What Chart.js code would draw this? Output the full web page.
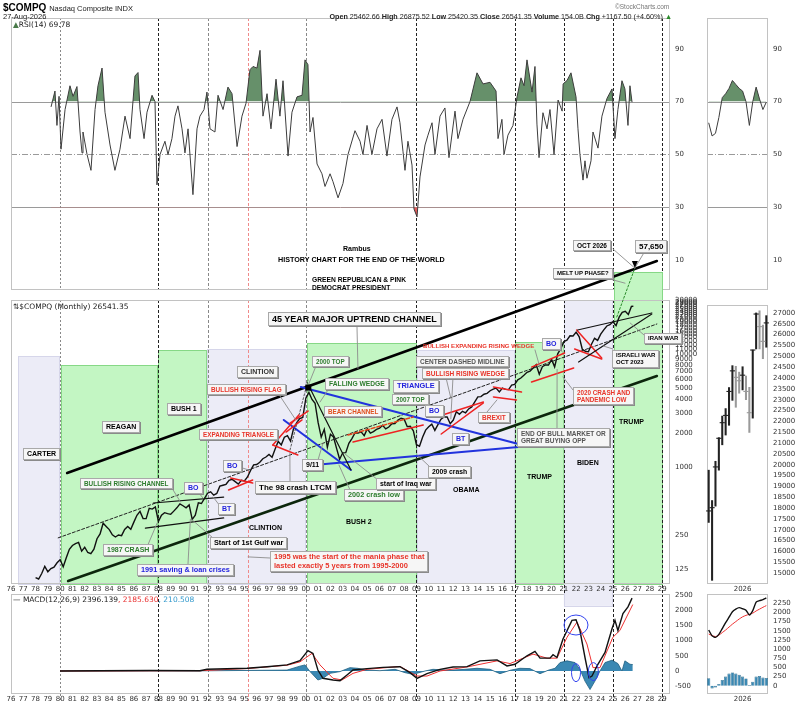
<!DOCTYPE html>
<html><head><meta charset="utf-8">
<script src="https://cdn.jsdelivr.net/npm/chart.js@4.4.1/dist/chart.umd.min.js"></script>
<style>
html,body{margin:0;padding:0;background:#fff}
body{width:800px;height:704px;overflow:hidden;position:relative;font-family:"Liberation Sans",Arial,sans-serif}
canvas{position:absolute}
.t{position:absolute;white-space:nowrap;line-height:1;z-index:4}
.cb{position:absolute;white-space:nowrap;background:#f6f6f6;border:1px solid #a9a9a9;box-shadow:1px 1px 0 #8a8a8a;padding:1px 3px;font-weight:bold;line-height:1.15;z-index:4}
.nb{position:absolute;white-space:nowrap;font-weight:bold;line-height:1.15;z-index:4}
.lg{position:absolute;white-space:nowrap;font:7.5px "DejaVu Sans",sans-serif;color:#222;z-index:4}
</style></head><body>
<div class="t" style="left:3px;top:2px;font:bold 10px 'Liberation Sans',Arial">$COMPQ <span style="font:normal 7.5px 'Liberation Sans',Arial;color:#222">Nasdaq Composite INDX</span></div>
<div class="t" style="left:3px;top:12px;font:7.5px 'Liberation Sans',Arial;color:#222">27-Aug-2026</div>
<div class="t" style="left:615px;top:3px;font:6.5px 'Liberation Sans',Arial;color:#777">©StockCharts.com</div>
<div class="t" style="right:128px;top:12px;font:7.2px 'Liberation Sans',Arial;color:#222"><b>Open</b> 25462.66 <b>High</b> 26875.52 <b>Low</b> 25420.35 <b>Close</b> 26541.35 <b>Volume</b> 154.0B <b>Chg</b> +1167.50 (+4.60%) <span style="color:#2a8a2a">▲</span></div>
<div class="lg" style="left:13px;top:20px"><span style="color:#4a7a4a">▲</span>RSI(14) 69.78</div>
<div class="lg" style="left:13px;top:302px">⇅$COMPQ (Monthly) 26541.35</div>
<div class="lg" style="left:13px;top:595px">— MACD(12,26,9) 2396.139<span style="color:#e83030">, 2185.630</span><span style="color:#3399cc">, 210.508</span></div>
<div class="nb" style="left:343px;top:245px;font-size:7px">Rambus</div>
<div class="nb" style="left:278px;top:256px;font-size:7.2px">HISTORY CHART FOR THE END OF THE WORLD</div>
<div class="nb" style="left:312px;top:276px;font-size:6.7px">GREEN REPUBLICAN &amp; PINK<br>DEMOCRAT PRESIDENT</div>
<script>
// ---------------- DATA ----------------
const priceStartYear = 1978;
const priceQuarterly = [105,
 102,114,132,118, 126,130,142,151, 131,157,187,202, 210,215,180,195, 175,171,187,232,
 256,318,298,279, 251,240,250,247, 280,297,281,325, 374,405,350,349, 431,424,444,330,
 374,394,387,381, 407,435,472,454, 435,462,344,374, 482,475,527,586, 603,563,583,677,
 690,703,763,777, 743,706,764,752, 817,933,1044,1052, 1101,1185,1226,1291, 1221,1442,1685,1570,
 1835,1895,1694,2193, 2461,2686,2746,4069, 4573,3966,3673,2471, 1840,2160,1499,1950, 1845,1463,1172,1336,
 1341,1623,1787,2003, 1994,2048,1897,2175, 1999,2057,2152,2205, 2340,2172,2258,2415, 2422,2603,2701,2652,
 2279,2293,2092,1577, 1529,1835,2122,2269, 2398,2109,2369,2653, 2781,2774,2415,2605, 3092,2935,3116,3020,
 3268,3403,3771,4177, 4199,4408,4493,4736, 4901,4987,4620,5007, 4870,4843,5312,5383, 5912,6140,6496,6903,
 7063,7510,8046,6635, 7729,8006,7999,8973, 7700,10059,11168,12888, 13247,14504,14448,15645, 14221,11029,10576,10466,
 12222,13788,13219,15011, 16379,17733,18189,19311, 17870,21220,23380,23875, 22400,26370];
const priceLastYear = 2026.66, priceLastClose = 26541.35;
const priceTicks = [125,250,1000,2000,3000,4000,5000,6000,7000,8000,9000,10000,11000,12000,13000,14000,15000,16000,17000,18000,19000,20000,21000,22000,23000,24000,25000,26000,27000,28000,29000,30000];

const rsiYears = [1979.26,1979.58,1979.74,1979.91,1980.07,1980.40,1980.80,1981.05,1981.37,1981.62,
 1981.78,1981.86,1982.19,1982.51,1982.84,1983.08,1983.41,1983.65,1984.06,1984.46,
 1984.87,1985.28,1985.69,1986.09,1986.34,1986.50,1986.83,1987.07,1987.48,1987.72,
 1987.88,1988.13,1988.53,1988.78,1989.10,1989.35,1989.59,1989.92,1990.16,1990.41,
 1990.81,1991.14,1991.38,1991.71,1991.95,1992.20,1992.60,1992.85,1993.26,1993.66,
 1993.99,1994.40,1994.80,1995.13,1995.45,1995.70,1996.02,1996.27,1996.51,1996.84,
 1997.16,1997.57,1997.89,1998.14,1998.55,1998.87,1999.28,1999.69,1999.93,2000.17,
 2000.34,2000.58,2000.91,2001.31,2001.56,2001.97,2002.21,2002.62,2003.02,2003.43,
 2004.00,2004.41,2004.65,2004.98,2005.38,2005.79,2006.20,2006.60,2007.01,2007.42,
 2007.66,2007.91,2008.07,2008.31,2008.64,2008.80,2009.05,2009.29,2009.70,2009.94,
 2010.27,2010.51,2010.92,2011.32,2011.65,2012.14,2012.38,2012.79,2013.36,2013.93,
 2014.42,2014.99,2015.48,2015.64,2015.96,2016.13,2016.45,2016.86,2017.19,2017.51,
 2017.76,2018.00,2018.41,2018.65,2018.81,2018.98,2019.30,2019.63,2019.87,2020.20,
 2020.53,2020.86,2020.94,2021.26,2021.58,2021.99,2022.15,2022.31,2022.56,2022.72,
 2022.88,2023.21,2023.37,2023.78,2024.10,2024.51,2024.92,2025.16,2025.40,2025.73,
 2025.97,2026.22,2026.38,2026.55];
const rsiValues = [68,74,61,72,52,67,76,72,75.7,58.5,
 50.6,58.5,50,44,67,76,82.7,66,53.6,44,
 52,64.5,56,79.7,81,67,56,66,72.4,70,
 38.5,50,55,50,56,64.5,68.4,59.7,50.6,59.7,
 34.8,59.7,64.5,67,73.6,59.7,58.5,72.4,67,75.5,
 73,53,64.5,69.4,82.1,83.3,82.7,89.4,64.5,73,
 59.7,78.5,64.5,77.9,49.4,66,71.8,72.4,85.8,84,
 58.5,64,46.4,42.7,37.9,42.7,39.7,33.6,39,50,
 59,55,50,61,50,59.7,63.3,49.4,63.3,68,
 62,51,44,55,46,29.4,26.4,41.5,53.6,57.3,
 62,50,64.5,67.6,48.8,66.4,56,63.3,70,80.9,
 76.7,77.3,74,56,63.3,50,57.3,61,71.8,79,
 76,85.8,73.6,83.3,61.5,48.8,65.8,59.7,67,50,
 70.6,66.4,76.7,78,80.9,71.8,59.7,50,40.3,47.6,
 41,47.6,58.5,52.4,64.5,71.2,74.8,56,67,77.9,
 74.8,61,76,69.8];

const macdYears = [1979.99,1983.24,1987.31,1991.38,1991.95,1995.21,1996.84,1998.47,1999.52,2000.17,
 2000.58,2000.98,2001.39,2002.21,2002.78,2003.35,2003.84,2004.98,2006.28,2007.66,
 2008.48,2009.05,2009.86,2010.92,2011.98,2013.12,2014.17,2015.56,2016.37,2017.02,
 2018.00,2018.65,2019.06,2019.87,2020.12,2020.44,2020.93,2021.66,2021.99,2022.31,
 2022.72,2023.05,2023.29,2023.70,2024.35,2024.92,2025.16,2025.40,2025.81,2026.22,2026.55];
const macdValues = [0,10,15,10,55,88,140,200,340,670,
 580,33,-240,-296,-318,-130,33,77,120,140,
 -55,-244,-89,55,133,144,333,366,166,222,
 500,644,422,422,533,444,1055,1665,1687,1332,
 444,-222,-166,166,610,1387,1665,1332,1887,2109,2396];
const signalYears = [1979.99,1991.38,1995.21,1998.47,1999.52,2000.50,2001.15,2002.21,2002.94,2003.84,
 2004.98,2007.66,2009.05,2009.86,2010.92,2013.12,2015.56,2016.62,2018.49,2019.63,
 2020.44,2021.26,2022.07,2022.88,2023.37,2023.94,2024.99,2025.56,2026.61];
const signalValues = [0,10,80,190,300,580,200,-240,-296,-77,
 55,150,-166,-166,0,133,333,244,555,422,
 422,1110,1610,888,111,111,1110,1332,2186];
const histYears = [1979.99,1991.38,1998.47,1999.52,1999.93,2000.34,2000.98,2001.39,2001.97,2002.78,
 2003.59,2004.24,2004.81,2006.03,2007.26,2008.07,2008.72,2009.70,2010.35,2011.73,
 2012.95,2013.93,2014.99,2015.80,2016.62,2017.43,2018.24,2019.06,2019.71,2020.28,
 2020.69,2021.26,2021.91,2022.31,2022.72,2023.13,2023.53,2023.94,2024.35,2024.92,
 2025.40,2025.73,2025.97,2026.38,2026.61];
const histValues = [0,5,30,160,200,-20,-296,-240,-77,-20,
 110,88,33,10,55,-55,-111,0,55,22,
 55,89,55,-89,22,89,78,-89,22,89,
 277,333,277,55,-333,-610,-333,0,277,355,
 244,0,333,222,210];
const macdTicks = [-500,0,500,1000,1500,2000,2500];
const rsiTicks = [10,30,50,70,90];

// mini panel (last 18 monthly bars)
const miniMonths = ['Mar 25','Apr 25','May 25','Jun 25','Jul 25','Aug 25','Sep 25','Oct 25','Nov 25','Dec 25','Jan 26','Feb 26','Mar 26','Apr 26','May 26','Jun 26','Jul 26','Aug 26'];
const miniHigh  = [19750,18350,20160,21250,22245,22590,23560,24570,24540,24270,24520,24090,23570,25290,27000,27100,26440,26875];
const miniLow   = [17340,14670,18090,19750,20920,21370,21820,22970,22650,23300,23450,23000,21490,22150,25340,25340,24890,25420];
const miniClose = [17870,18020,19900,21220,21940,22275,23380,24330,24030,23875,24130,23380,22400,25290,26950,26370,25690,26541];
const miniRsi   = [62,57,58,64,71.5,73,75,78,76.5,75,74,70,61,70,75.5,71,67,69.8];
const miniMacd  = [1520,1360,1320,1400,1560,1720,1870,2020,2090,2130,2100,2060,1930,2050,2280,2320,2350,2396];
const miniSignal= [1410,1370,1340,1380,1450,1520,1600,1680,1750,1820,1880,1920,1950,1980,2040,2090,2140,2186];
const miniHist  = [205,-75,-46,46,157,250,330,360,330,296,250,200,18,111,250,268,222,210];

// presidential terms (start, end, top price, bottom price, party)
const termStart = [1976.6,1980.05,1988.0,1991.95,2000.1,2009.05,2017.05,2021.0,2025.1];
const termEnd   = [1979.95,1987.9,1991.9,1999.95,2009.0,2016.98,2020.95,2024.92,2029.0];
const termTop   = [9620,8000,10850,11090,12500,10850,12780,30100,53300];
const termBottom= [93,93,93,93,93,93,93,59,93];
const termParty = ['D','R','R','D','R','D','R','D','R'];

const vLineYears = [1980,1988,1992,1995.3,2000,2009,2017,2021,2025,2029];

// ---------------- STYLES / LAYOUT ----------------
const YR0 = 1976, YR1 = 2029.64, AXW = 30;
const tickFont = {family:'DejaVu Sans', size:7};
const tickColor = '#333';
const vLineStyle = [['#888',[2,2]],['#222',[3,2]],['#888',[3,2]],['#f08a8a',[3,2]],['#888',[3,2]],['#222',[3,2]],['#222',[3,2]],['#222',[3,2]],['#222',[3,2]],['#222',[3,2]]];
const lineStyles = {
 chan:{c:'#000',w:2.6}, chanL:{c:'#0c260c',w:2.6}, mid:{c:'#222',w:1,d:[3,2]}, dash:{c:'#333',w:0.8,d:[2,2]},
 blue:{c:'#2233dd',w:2}, red:{c:'#ee2222',w:1.5}, redd:{c:'#e8401a',w:1.5,d:[4,2]}, blk:{c:'#111',w:1.2}, gdot:{c:'#2a8a2a',w:1,d:[2,2]}
};
const trendLines = [
 [1980.57,885,2028.57,66700,'chan'],
 [1980.65,98,2028.57,6390,'chanL'],
 [1979.84,236,2028.57,18450,'mid'],
 [1999.59,5110,2017.31,1600,'blue'],
 [2000.65,1041,2017.31,1503,'blue'],
 [1998.20,2610,2003.67,941,'blue'],
 [2000.41,4800,2003.67,941,'blk'],
 [1998.71,1414,2000.18,5890,'dash'],
 [1997.31,1567,1999.43,2890,'red'],
 [1997.31,1567,1999.35,1277,'red'],
 [1998.71,2450,2000.18,3130,'red'],
 [1998.39,2040,1999.69,2610,'red'],
 [1993.88,799,1995.67,722,'red'],
 [1993.71,626,1995.67,767,'red'],
 [1987.59,480,1993.31,542,'blk'],
 [1986.94,288,1993.31,354,'blk'],
 [2003.43,1920,2008.73,2770,'redd'],
 [2003.84,1665,2009.55,2350,'red'],
 [2010.61,2770,2014.45,3760,'red'],
 [2011.02,1960,2014.45,3690,'red'],
 [2015.27,5110,2017.55,4610,'red'],
 [2015.27,4170,2017.14,3920,'red'],
 [2018.37,7670,2021.06,10220,'red'],
 [2018.37,5660,2021.80,7520,'red'],
 [2022.04,16330,2024.08,9230,'red'],
 [2021.88,11090,2024.08,9040,'red'],
 [2022.12,16330,2028.16,23100,'blk'],
 [2022.20,8500,2028.16,22600,'blk'],
 [2025.31,21300,2026.78,57650,'gdot']
];
const targetYear = 2026.78, targetValue = 57650;
// leader lines: page pixel start -> data target
const leaders = [
 [357,327,2004.24,7460],[278,393,1999.18,2610],[290,481,1998.7,1330],[318,460,2001.4,1630],
 [316,366,2000.1,5000],[330,387,2001.15,3760],[233,465,1995.35,941],[170,485,1989.8,490],
 [195,488,1991.63,530],[220,506,1992.46,542],[147,547,1987.9,320],[213,538,1990.75,340],
 [188,564,1990.6,345],[270,558,1995.3,160],[350,490,2002.7,1040],[378,480,2003.2,1300],
 [430,467,2009.1,1270],[443,365,2011.8,4080],[453,377,2011.8,2670],[535,350,2019.07,7520],
 [553,343,2020.9,10400],[487,412,2015.55,3920],[557,428,2020.45,7300],[573,390,2020.93,6270],
 [613,349,2024.2,11800],[644,335,2026.4,18830],[613,249,targetYear,targetValue],[645,251,targetYear,targetValue],
 [606,278,2025.98,42400]
];
const notes = [
 [23,448,'CARTER','#000',1,7],[102,421,'REAGAN','#000',1,7],[167,403,'BUSH 1','#000',1,7],
 [237,366,'CLINTION','#333',1,7],[207,384,'BULLISH RISING FLAG','#e8352a',1,6.4],
 [199,429,'EXPANDING TRIANGLE','#e8352a',1,6.3],[223,460,'BO','#2222dd',1,7],
 [80,478,'BULLISH RISING CHANNEL','#2d7d2d',1,6.4],[184,482,'BO','#2222dd',1,7],[218,503,'BT','#2222dd',1,7],
 [255,481,'The 98 crash LTCM','#000',1,8],[302,459,'9/11','#000',1,7],[103,544,'1987 CRASH','#2d7d2d',1,7],
 [210,537,'Start of 1st Gulf war','#000',1,7.3],[249,524,'CLINTION','#000',0,7],
 [137,564,'1991 saving &amp; loan crises','#2222dd',1,7.3],
 [270,551,'1995 was the start of the mania phase that<br>lasted exactly 5 years from 1995-2000','#e8352a',1,7.5],
 [268,312,'45 YEAR MAJOR UPTREND CHANNEL','#000',1,9],
 [312,356,'2000 TOP','#2d7d2d',1,6.3],[325,378,'FALLING WEDGE','#2d7d2d',1,6.7],[393,380,'TRIANGLE','#2222dd',1,7.4],
 [324,406,'BEAR CHANNEL','#e0501e',1,6.3],[392,394,'2007 TOP','#2d7d2d',1,6.3],[425,405,'BO','#2222dd',1,7],
 [452,433,'BT','#2222dd',1,7],[344,489,'2002 crash low','#2d7d2d',1,7.3],[376,478,'start of Iraq war','#000',1,6.9],
 [428,466,'2009 crash','#000',1,6.8],[453,486,'OBAMA','#000',0,7],[346,518,'BUSH 2','#000',0,7],
 [416,356,'CENTER DASHED MIDLINE','#555',1,6.5],[422,368,'BULLISH RISING WEDGE','#e8352a',1,6.5],
 [423,342,'BULLISH EXPANDING RISING WEDGE','#e8352a',0,6.1],[542,338,'BO','#2222dd',1,7],
 [478,412,'BREXIT','#e8352a',1,6.5],[517,428,'END OF BULL MARKET OR<br>GREAT BUYING OPP','#555',1,6.5],
 [527,473,'TRUMP','#000',0,7],[577,459,'BIDEN','#000',0,7],
 [573,387,'2020 CRASH AND<br>PANDEMIC LOW','#e8352a',1,6.3],[612,350,'ISRAELI WAR<br>OCT 2023','#000',1,6],
 [619,418,'TRUMP','#000',0,7],[644,333,'IRAN WAR','#000',1,6],[573,240,'OCT 2026','#000',1,6.5],
 [635,240,'57,650','#000',1,8],[553,268,'MELT UP PHASE?','#000',1,6]
];
const ellipses = [[2021.99,1513,12,10],[2021.99,-55,4.5,9],[2023.4,-20,5,9]];

// ---------------- HELPERS ----------------
function mkCanvas(left,top,w,h,z){
 const c=document.createElement('canvas'); c.width=w; c.height=h;
 c.style.left=left+'px'; c.style.top=top+'px'; c.style.width=w+'px'; c.style.height=h+'px'; c.style.zIndex=z;
 document.body.appendChild(c); return c;
}
function yAxis(min,max,ticks,type){
 return {type:type||'linear', position:'right', min, max, grid:{display:false, drawTicks:false}, border:{display:false},
  ticks:{font:tickFont, color:tickColor, padding:5, autoSkip:false, callback:v=>String(v)},
  afterBuildTicks(s){ s.ticks = ticks.map(v=>({value:v})); },
  afterFit(s){ s.width=AXW; s.paddingTop=0; s.paddingBottom=0; }};
}
const yearTicks=[]; for(let y=1976;y<=2029;y++) yearTicks.push(y);
function xYears(show){
 return {type:'linear', min:YR0, max:YR1, display:show, position:'bottom', grid:{display:false, drawTicks:false}, border:{display:false},
  ticks:{font:tickFont, color:tickColor, padding:2, autoSkip:false, maxRotation:0, z:1, callback:v=>String(v%100).padStart(2,'0')},
  afterBuildTicks(s){ s.ticks = yearTicks.map(v=>({value:v})); },
  afterFit(s){ s.height=11; s.paddingLeft=0; s.paddingRight=0; }};
}
function panelPlugin(cfg){
 return {id:'panel', beforeDatasetsDraw(chart){
  const {ctx, chartArea:a, scales:{x,y}} = chart;
  ctx.save(); ctx.lineWidth=1;
  (cfg.hlines||[]).forEach(h=>{ const py=Math.round(y.getPixelForValue(h[0]))+0.5;
    ctx.strokeStyle='#9a9a9a'; ctx.setLineDash(h[1]); ctx.beginPath(); ctx.moveTo(a.left,py); ctx.lineTo(a.right,py); ctx.stroke(); });
  if(cfg.vlines){ vLineYears.forEach((yr,i)=>{ const px=Math.round(x.getPixelForValue(yr))+0.5;
    ctx.strokeStyle=vLineStyle[i][0]; ctx.setLineDash(vLineStyle[i][1]); ctx.beginPath();
    ctx.moveTo(px,a.top); ctx.lineTo(px,a.bottom+(cfg.vBot||0)); ctx.stroke(); }); }
  ctx.setLineDash([]); ctx.strokeStyle='#c2c2c2';
  ctx.strokeRect(Math.round(a.left)+0.5, Math.round(a.top)+0.5, Math.round(a.width)-1, Math.round(a.height));
  ctx.restore();
 }};
}
const baseOpts = (pad)=>({responsive:false, animation:false, events:[], layout:{padding:pad},
  plugins:{legend:{display:false}, tooltip:{enabled:false}}});

// ---------------- RSI (main) ----------------
const rsiPts = rsiYears.map((x,i)=>({x, y:rsiValues[i]}));
new Chart(mkCanvas(0,0,800,300,1), {type:'line',
 data:{datasets:[
  {data:rsiPts, borderColor:'#3c3c3c', borderWidth:1, pointRadius:0, tension:0, fill:{target:{value:70}, above:'#66906a', below:'rgba(0,0,0,0)'}},
  {data:rsiPts, borderWidth:0, borderColor:'rgba(0,0,0,0)', pointRadius:0, tension:0, fill:{target:{value:30}, above:'rgba(0,0,0,0)', below:'#e05a5a'}}
 ]},
 options:Object.assign(baseOpts({left:11,right:100,top:18,bottom:0}), {scales:{x:xYears(false), y:yAxis(-0.9,101.64,rsiTicks)}}),
 plugins:[panelPlugin({hlines:[[70,[]],[30,[]],[50,[6,2,1,2]]], vlines:true})]
});

// ---------------- PRICE (main) ----------------
const pricePts = priceQuarterly.map((v,i)=>({x:priceStartYear+i*0.25, y:v}));
pricePts.push({x:priceLastYear, y:priceLastClose});
const regionPlugin = {id:'regions', beforeDatasetsDraw(chart){
 const {ctx, scales:{x,y}} = chart; ctx.save();
 termStart.forEach((s,i)=>{
  const x0=x.getPixelForValue(s), x1=x.getPixelForValue(termEnd[i]);
  const yt=y.getPixelForValue(termTop[i]), yb=y.getPixelForValue(termBottom[i]);
  const rep = termParty[i]==='R';
  ctx.fillStyle = rep ? '#c3f6c3' : '#ececf7';
  ctx.fillRect(x0,yt,x1-x0,yb-yt);
  ctx.strokeStyle = rep ? '#86d886' : '#d6d6ea'; ctx.lineWidth=1;
  ctx.strokeRect(Math.round(x0)+0.5,Math.round(yt)+0.5,Math.round(x1-x0),Math.round(yb-yt));
 });
 ctx.restore();
}};
const overlayPlugin = {id:'overlay', afterDatasetsDraw(chart){
 const {ctx, scales:{x,y}} = chart;
 const P=(yr,v)=>[x.getPixelForValue(yr), y.getPixelForValue(v)];
 ctx.save(); ctx.lineCap='round';
 trendLines.forEach(t=>{ const st=lineStyles[t[4]]; const a=P(t[0],t[1]), b=P(t[2],t[3]);
  ctx.strokeStyle=st.c; ctx.lineWidth=st.w; ctx.setLineDash(st.d||[]);
  ctx.beginPath(); ctx.moveTo(a[0],a[1]); ctx.lineTo(b[0],b[1]); ctx.stroke(); });
 ctx.setLineDash([]); ctx.strokeStyle='#8c8c8c'; ctx.lineWidth=0.9;
 leaders.forEach(l=>{ const b=P(l[2],l[3]); ctx.beginPath(); ctx.moveTo(l[0],l[1]); ctx.lineTo(b[0],b[1]); ctx.stroke(); });
 const tp=P(targetYear,targetValue); ctx.fillStyle='#000';
 ctx.beginPath(); ctx.moveTo(tp[0],tp[1]); ctx.lineTo(tp[0]-3,tp[1]-7); ctx.lineTo(tp[0]+3,tp[1]-7); ctx.closePath(); ctx.fill();
 const top=P(2000.2,5048); ctx.fillRect(top[0]-3,top[1]-3,6,6);
 ctx.restore();
}};
new Chart(mkCanvas(0,0,800,612,2), {type:'line',
 data:{datasets:[{data:pricePts, borderColor:'#111', borderWidth:1.4, pointRadius:0, tension:0}]},
 options:Object.assign(baseOpts({left:11,right:100,top:300,bottom:18}), {scales:{x:xYears(true), y:yAxis(94,30100,priceTicks,'logarithmic')}}),
 plugins:[regionPlugin, panelPlugin({vlines:true, vBot:11}), overlayPlugin]
});

// ---------------- MACD (main) ----------------
const ellipsePlugin = {id:'ell', afterDatasetsDraw(chart){
 const {ctx, scales:{x,y}} = chart; ctx.save(); ctx.strokeStyle='#3344ee'; ctx.lineWidth=1;
 ellipses.forEach(e=>{ ctx.beginPath(); ctx.ellipse(x.getPixelForValue(e[0]), y.getPixelForValue(e[1]), e[2], e[3], 0, 0, Math.PI*2); ctx.stroke(); });
 ctx.restore();
}};
new Chart(mkCanvas(0,590,800,114,1), {type:'line',
 data:{datasets:[
  {data:macdYears.map((x,i)=>({x,y:macdValues[i]})), borderColor:'#111', borderWidth:1.4, pointRadius:0, tension:0, order:0},
  {data:signalYears.map((x,i)=>({x,y:signalValues[i]})), borderColor:'#ee3030', borderWidth:1, pointRadius:0, tension:0, order:1},
  {data:histYears.map((x,i)=>({x,y:histValues[i]})), borderColor:'#1f5f80', borderWidth:0.8, backgroundColor:'#3a88b3', fill:'origin', pointRadius:0, tension:0, order:2}
 ]},
 options:Object.assign(baseOpts({left:11,right:100,top:4,bottom:0}), {scales:{x:xYears(true), y:yAxis(-724,2533,macdTicks)}}),
 plugins:[panelPlugin({vlines:true, vBot:8}), ellipsePlugin]
});

// ---------------- MINI PANELS ----------------
const miniTicksPrice=[]; for(let v=15000; v<=27000; v+=500) miniTicksPrice.push(v);
const miniTicksMacd=[]; for(let v=0; v<=2250; v+=250) miniTicksMacd.push(v);
function xMini(show){
 return {type:'category', offset:true, display:show, grid:{display:false, drawTicks:false}, border:{display:false},
  ticks:{font:tickFont, color:tickColor, padding:2, autoSkip:false, maxRotation:0, callback:(v,i)=> i===10 ? '2026' : ''},
  afterFit(s){ s.height=11; s.paddingLeft=0; s.paddingRight=0; }};
}
const miniPad = (t,b)=>({left:7,right:2,top:t,bottom:b});
new Chart(mkCanvas(700,0,100,300,1), {type:'line',
 data:{labels:miniMonths, datasets:[{data:miniRsi, borderColor:'#3c3c3c', borderWidth:1, pointRadius:0, tension:0,
  fill:{target:{value:70}, above:'#66906a', below:'rgba(0,0,0,0)'}}]},
 options:Object.assign(baseOpts(miniPad(18,0)), {scales:{x:xMini(false), y:yAxis(-0.9,101.64,rsiTicks)}}),
 plugins:[panelPlugin({hlines:[[70,[]],[30,[]],[50,[6,2,1,2]]]})]
});
const barCol = i => (i>0 && miniClose[i] < miniClose[i-1]) ? '#9a9a9a' : '#222';
new Chart(mkCanvas(700,300,100,300,1), {
 data:{labels:miniMonths, datasets:[
  {type:'line', data:miniClose, showLine:false, pointStyle:'line', pointRadius:2.6, pointBorderWidth:1.1,
   pointBorderColor:c=>barCol(c.dataIndex), order:0},
  {type:'bar', data:miniLow.map((l,i)=>[l,miniHigh[i]]), backgroundColor:c=>barCol(c.dataIndex), barThickness:1.4, order:1}
 ]},
 options:Object.assign(baseOpts(miniPad(0,6)), {scales:{x:xMini(true), y:yAxis(14547,27362,miniTicksPrice)}}),
 plugins:[panelPlugin({})]
});
new Chart(mkCanvas(700,590,100,114,1), {
 data:{labels:miniMonths, datasets:[
  {type:'line', data:miniMacd, borderColor:'#111', borderWidth:1.4, pointRadius:0, tension:0.2, order:0},
  {type:'line', data:miniSignal, borderColor:'#ee3030', borderWidth:1, pointRadius:0, tension:0.2, order:1},
  {type:'bar', data:miniHist, backgroundColor:'#3a88b3', borderColor:'#1f5f80', borderWidth:0.6, barPercentage:0.95, categoryPercentage:1, order:2}
 ]},
 options:Object.assign(baseOpts(miniPad(4,0)), {scales:{x:xMini(true), y:yAxis(-199,2503,miniTicksMacd)}}),
 plugins:[panelPlugin({})]
});

// ---------------- ANNOTATION TEXT ----------------
notes.forEach(n=>{
 const d=document.createElement('div'); d.className = n[4] ? 'cb' : 'nb';
 d.style.left=n[0]+'px'; d.style.top=n[1]+'px'; d.style.color=n[3]; d.style.fontSize=n[5]+'px';
 d.innerHTML=n[2]; document.body.appendChild(d);
});
</script>
</body></html>
